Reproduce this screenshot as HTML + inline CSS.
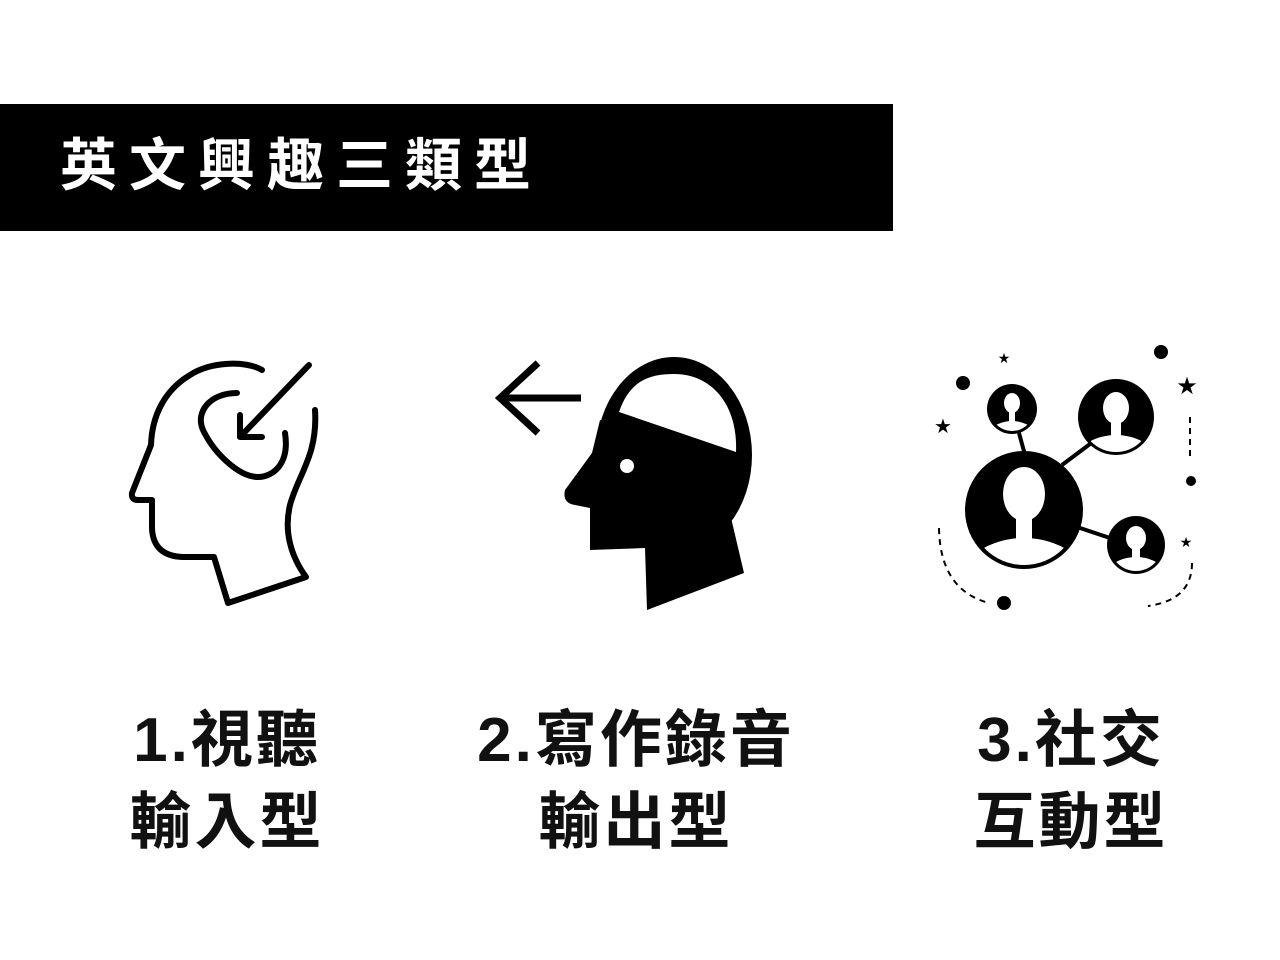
<!DOCTYPE html>
<html><head><meta charset="utf-8"><style>
body{margin:0;width:1280px;height:960px;background:#fff;position:relative;overflow:hidden;font-family:"Liberation Sans","Noto Sans CJK TC",sans-serif}
#bar{position:absolute;left:0;top:104px;width:893px;height:127px;background:#000}
#title{position:absolute;left:60px;top:128px;font-size:57px;line-height:76px;color:#fff;font-weight:bold;letter-spacing:12px;white-space:nowrap}
.lab{position:absolute;top:700px;width:400px;text-align:center;font-size:62px;line-height:82px;font-weight:bold;color:#111;letter-spacing:3px}
svg{position:absolute;left:0;top:0}
</style></head><body>
<div id="bar"></div>
<div id="title">英文興趣三類型</div>
<svg width="1280" height="960" viewBox="0 0 1280 960">
<defs>
<clipPath id="c1"><circle cx="1024" cy="510" r="55"/></clipPath>
<clipPath id="c2"><circle cx="1012" cy="409" r="22"/></clipPath>
<clipPath id="c3"><circle cx="1116" cy="417" r="35"/></clipPath>
<clipPath id="c4"><circle cx="1136" cy="545" r="26"/></clipPath>
</defs>
<g fill="none" stroke="#000" stroke-width="6" stroke-linecap="round" stroke-linejoin="round">
<path d="M262 370 C245 360 210 362 190 375 C165 390 152 415 151 445 L132 493 Q131 500 138 500 L152 500 L152 528 Q153 556 183 557 L214 557 L228 603 L306 577 C290 555 284 530 290 505 C298 475 318 455 315 410"/>
<path d="M237 393 C210 393 195 412 203 430 C215 455 240 477 258 477 C272 477 290 465 285 433"/>
<path d="M309 365 L240 437 M240 415 L240 437 L262 437"/>
<path d="M581 398 L500 398 M538 363 L500 398 L538 433" stroke-width="7" stroke-linecap="butt" stroke-linejoin="miter"/>
</g>
<ellipse cx="674" cy="455" rx="78" ry="98" fill="#000"/>
<path d="M600 420 L592 453 L565 490 Q562 503 575 505 L590 508 L590 550 L645 548 L647 610 L744 573 L728 505 L740 470 Z" fill="#000"/>
<path d="M619 412 C630 380 650 374 674 374 C712 374 738 405 736 452 Z" fill="#fff"/>
<circle cx="627" cy="466" r="7" fill="#fff"/>
<g stroke="#000" stroke-width="4">
<line x1="1019" y1="433" x2="1025" y2="455"/>
<line x1="1062" y1="465" x2="1090" y2="444"/>
<line x1="1080" y1="528" x2="1110" y2="538"/>
</g>
<g fill="#000">
<circle cx="1024" cy="510" r="59"/><circle cx="1012" cy="409" r="25"/><circle cx="1116" cy="417" r="38"/><circle cx="1136" cy="545" r="29"/>
</g>
<g fill="#fff">
<g clip-path="url(#c1)"><ellipse cx="1024" cy="494" rx="21" ry="27"/><rect x="1016" y="510" width="16" height="30"/><ellipse cx="1024" cy="585" rx="65" ry="47"/></g>
<g clip-path="url(#c2)"><ellipse cx="1012" cy="403" rx="8" ry="10"/><rect x="1009" y="410" width="6" height="12"/><ellipse cx="1012" cy="440" rx="26" ry="19"/></g>
<g clip-path="url(#c3)"><ellipse cx="1116" cy="408" rx="13" ry="16"/><rect x="1111" y="418" width="10" height="18"/><ellipse cx="1116" cy="465" rx="42" ry="30"/></g>
<g clip-path="url(#c4)"><ellipse cx="1136" cy="538" rx="10" ry="12"/><rect x="1132" y="546" width="8" height="14"/><ellipse cx="1136" cy="580" rx="32" ry="23"/></g>
</g>
<g fill="#000">
<circle cx="963" cy="383" r="7"/><circle cx="1161" cy="352" r="7"/><circle cx="1191" cy="481" r="5"/><circle cx="1004" cy="603" r="7"/>
<text x="1004" y="363" font-size="14" text-anchor="middle" font-family="DejaVu Sans">★</text>
<text x="943" y="433" font-size="20" text-anchor="middle" font-family="DejaVu Sans">★</text>
<text x="1187" y="394" font-size="24" text-anchor="middle" font-family="DejaVu Sans">★</text>
<text x="1186" y="547" font-size="14" text-anchor="middle" font-family="DejaVu Sans">★</text>
</g>
<g fill="none" stroke="#000" stroke-width="2" stroke-dasharray="6 5">
<line x1="1190" y1="417" x2="1190" y2="460"/>
<path d="M939 528 Q940 590 989 603"/>
<path d="M1192 563 Q1192 600 1148 606"/>
</g>
</svg>
<div class="lab" style="left:27px">1.視聽<br>輸入型</div>
<div class="lab" style="left:436px">2.寫作錄音<br>輸出型</div>
<div class="lab" style="left:871px">3.社交<br>互動型</div>
</body></html>
